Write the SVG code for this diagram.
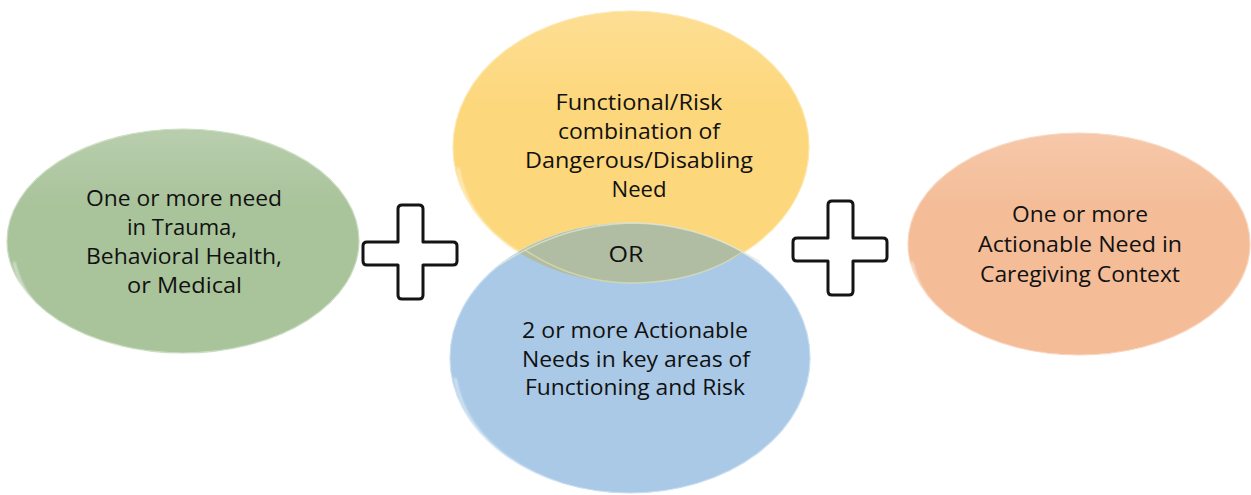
<svg xmlns="http://www.w3.org/2000/svg" width="1251" height="495" viewBox="0 0 1251 495">
  <style>
    .lbl { font-family: "Open Sans", "Liberation Sans", sans-serif; font-size: 22.5px; fill: #111; text-anchor: middle; }
    .rim { fill: none; stroke: #ffffff; stroke-opacity: 0.55; stroke-width: 2.5; }
    .edge { stroke-width: 1.2; }
    .cross { fill: #ffffff; stroke: #141414; stroke-width: 3; stroke-linejoin: round; }
  </style>
  <defs>
    <!-- plus sign drawn in a 94x94 local box -->
    <path id="plus" d="M35,4 Q35,0 39,0 H56 Q60,0 60,4 V37 H90 Q94,37 94,41 V56 Q94,60 90,60 H60 V90 Q60,94 56,94 H39 Q35,94 35,90 V60 H4 Q0,60 0,56 V41 Q0,37 4,37 H35 Z"/>
    <filter id="soft" x="-10%" y="-10%" width="120%" height="120%">
      <feGaussianBlur stdDeviation="0.8"/>
    </filter>
    <clipPath id="clipYellow">
      <ellipse cx="631" cy="147" rx="178" ry="136"/>
    </clipPath>
    <linearGradient id="gloss" x1="0" y1="0" x2="0" y2="1">
      <stop offset="0" stop-color="#ffffff" stop-opacity="0.18"/>
      <stop offset="0.35" stop-color="#ffffff" stop-opacity="0"/>
    </linearGradient>
  </defs>

  <rect width="1251" height="495" fill="#ffffff"/>

  <!-- left node: clinical needs -->
  <g id="node-clinical">
    <ellipse cx="183" cy="241" rx="176" ry="112" fill="#a9c39b" stroke="#c9dcbf" class="edge"/>
    <ellipse cx="183" cy="241" rx="176" ry="112" fill="url(#gloss)"/>
    <path class="rim" d="M14,262 Q30,330 120,347" filter="url(#soft)"/>
    <text class="lbl" x="184" y="206" textLength="196" lengthAdjust="spacingAndGlyphs">One or more need</text>
    <text class="lbl" x="182" y="235" textLength="110" lengthAdjust="spacingAndGlyphs">in Trauma,</text>
    <text class="lbl" x="184" y="264" textLength="196" lengthAdjust="spacingAndGlyphs">Behavioral Health,</text>
    <text class="lbl" x="184.5" y="293" textLength="115" lengthAdjust="spacingAndGlyphs">or Medical</text>
  </g>

  <!-- centre top node: functional/risk -->
  <g id="node-functional">
    <ellipse cx="631" cy="147" rx="178" ry="136" fill="#fdd77c" stroke="#fde6a8" class="edge"/>
    <ellipse cx="631" cy="147" rx="178" ry="136" fill="url(#gloss)"/>
    <path class="rim" d="M458,168 Q470,240 560,272" filter="url(#soft)"/>
    <text class="lbl" x="639" y="110" textLength="167" lengthAdjust="spacingAndGlyphs">Functional/Risk</text>
    <text class="lbl" x="639" y="139" textLength="162" lengthAdjust="spacingAndGlyphs">combination of</text>
    <text class="lbl" x="639" y="168" textLength="228" lengthAdjust="spacingAndGlyphs">Dangerous/Disabling</text>
    <text class="lbl" x="639" y="197" textLength="55" lengthAdjust="spacingAndGlyphs">Need</text>
  </g>

  <!-- centre bottom node: actionable needs -->
  <g id="node-actionable">
    <ellipse cx="630" cy="358" rx="180" ry="135" fill="#a9c9e7" stroke="#c7ddf1" class="edge"/>
    <!-- overlap with the node above -->
    <ellipse cx="630" cy="358" rx="180" ry="135" fill="#b1bda3" clip-path="url(#clipYellow)"/>
    <path d="M500,265 Q560,225 630,223 Q700,223 760,262" fill="none" stroke="#e4ead0" stroke-opacity="0.7" stroke-width="1.5"/>
    <path d="M525,250 Q575,283 631,283 Q700,283 745,250" fill="none" stroke="#e8e3b0" stroke-opacity="0.6" stroke-width="1.5"/>
    <path class="rim" d="M455,378 Q468,450 560,485" filter="url(#soft)"/>
    <text class="lbl" x="635" y="338" textLength="226" lengthAdjust="spacingAndGlyphs">2 or more Actionable</text>
    <text class="lbl" x="636" y="367" textLength="228" lengthAdjust="spacingAndGlyphs">Needs in key areas of</text>
    <text class="lbl" x="635" y="395" textLength="220" lengthAdjust="spacingAndGlyphs">Functioning and Risk</text>
  </g>

  <!-- OR label in the overlap -->
  <g id="node-or">
    <text class="lbl" x="626" y="262" textLength="35" lengthAdjust="spacingAndGlyphs">OR</text>
  </g>

  <!-- right node: caregiving context -->
  <g id="node-caregiving">
    <ellipse cx="1079" cy="244" rx="171" ry="111" fill="#f4bc97" stroke="#f8d5bd" class="edge"/>
    <ellipse cx="1079" cy="244" rx="171" ry="111" fill="url(#gloss)"/>
    <path class="rim" d="M912,262 Q925,325 1010,348" filter="url(#soft)"/>
    <text class="lbl" x="1080" y="222" textLength="136" lengthAdjust="spacingAndGlyphs">One or more</text>
    <text class="lbl" x="1080" y="252" textLength="204" lengthAdjust="spacingAndGlyphs">Actionable Need in</text>
    <text class="lbl" x="1080" y="282" textLength="200" lengthAdjust="spacingAndGlyphs">Caregiving Context</text>
  </g>

  <!-- plus connectors between the nodes -->
  <g id="connectors">
    <use href="#plus" class="cross" transform="translate(363,205)"/>
    <use href="#plus" class="cross" transform="translate(793,201)"/>
  </g>
</svg>
